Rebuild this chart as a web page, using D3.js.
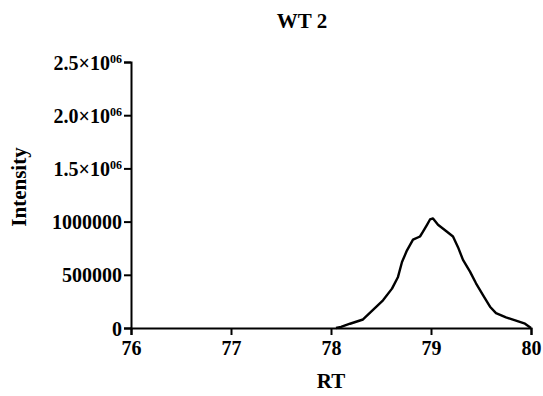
<!DOCTYPE html>
<html>
<head>
<meta charset="utf-8">
<script src="https://cdn.jsdelivr.net/npm/d3@7"></script>
<style>
  body { margin: 0; background: #fff; }
  text { font-family: "Liberation Serif", "Times New Roman", serif; font-weight: bold; fill: #000; }
</style>
</head>
<body>
<div id="chart-area"></div>
<script>
// datos
var rt = [78.05, 78.10, 78.19, 78.32, 78.42, 78.52, 78.61, 78.67, 78.71, 78.76, 78.82, 78.89, 78.92, 78.96, 78.99, 79.02,
          79.07, 79.16, 79.22, 79.27, 79.32, 79.39, 79.45, 79.52, 79.59, 79.65, 79.75, 79.85, 79.94, 80.00];
var intensity = [0, 10000, 40000, 80000, 170000, 260000, 370000, 480000, 620000, 730000, 830000, 860000, 905000, 970000, 1020000, 1030000,
                 970000, 905000, 860000, 760000, 640000, 530000, 420000, 310000, 200000, 140000, 100000, 70000, 40000, 0];
var xTicks = [76, 77, 78, 79, 80];
var yTicks = [0, 500000, 1000000, 1500000, 2000000, 2500000];
var yTickLabels = [["0"], ["500000"], ["1000000"], ["1.5\u00d710", "06"], ["2.0\u00d710", "06"], ["2.5\u00d710", "06"]];

var margin = { left: 131, right: 12, top: 62, bottom: 68 };
var width = 543 - margin.left - margin.right,
    height = 396 - margin.top - margin.bottom;

var svg = d3.select("#chart-area")
    .append("svg")
        .attr("width", 543)
        .attr("height", 396);

var g = svg.append("g")
    .attr("transform", "translate(" + margin.left + ", " + margin.top + ")");

var x = d3.scaleLinear().domain([76, 80]).range([0, width]);
var y = d3.scaleLinear().domain([0, 2500000]).range([height, 0]);

// eje x
var xAxis = g.append("g")
    .attr("transform", "translate(0," + height + ")")
    .call(d3.axisBottom(x).tickValues(xTicks).tickSize(7).tickPadding(6).tickFormat(d3.format("d")));
xAxis.selectAll("text").style("font-size", "20px");

// eje y
var yAxis = g.append("g")
    .call(d3.axisLeft(y).tickValues(yTicks).tickSize(7).tickPadding(2).tickFormat(""));
yAxis.selectAll(".tick text").each(function(d, i) {
    var t = d3.select(this).style("font-size", "20px").attr("dy", "0.35em");
    var lab = yTickLabels[i];
    t.text(null);
    t.append("tspan").text(lab[0]);
    if (lab.length > 1) {
        t.append("tspan").text(lab[1]).style("font-size", "12px").attr("dy", "-0.55em");
    }
});

svg.selectAll(".domain, .tick line")
    .attr("stroke", "#000")
    .attr("stroke-width", 2);

// curva
var line = d3.line()
    .x(function(d, i) { return x(rt[i]); })
    .y(function(d) { return y(d); });

g.append("path")
    .datum(intensity)
    .attr("fill", "none")
    .attr("stroke", "#000")
    .attr("stroke-width", 2.4)
    .attr("stroke-linejoin", "round")
    .attr("d", line);

// titulos
svg.append("text")
    .attr("x", 302).attr("y", 28)
    .attr("text-anchor", "middle")
    .style("font-size", "21px")
    .text("WT 2");

svg.append("text")
    .attr("x", 331).attr("y", 388)
    .attr("text-anchor", "middle")
    .style("font-size", "21px")
    .text("RT");

svg.append("text")
    .attr("transform", "translate(26," + (margin.top + height / 2 - 8) + ") rotate(-90)")
    .attr("text-anchor", "middle")
    .style("font-size", "21px")
    .text("Intensity");
</script>
</body>
</html>
